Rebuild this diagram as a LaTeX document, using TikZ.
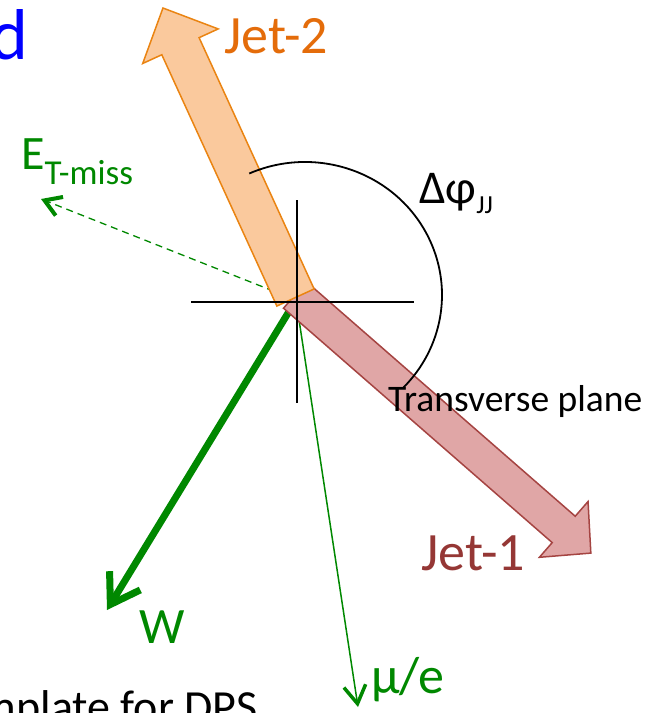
\documentclass[tikz,border=0pt]{standalone}
\usepackage{fontspec}
\setmainfont{Carlito}
\usetikzlibrary{arrows.meta,calc}
\definecolor{jettwofill}{RGB}{250,201,157}
\definecolor{jettwoline}{RGB}{234,132,18}
\definecolor{jettwotext}{RGB}{228,108,10}
\definecolor{jetonefill}{RGB}{224,166,166}
\definecolor{jetoneline}{RGB}{165,68,66}
\definecolor{jetonetext}{RGB}{149,55,53}
\definecolor{lepgreen}{RGB}{0,136,0}
\definecolor{titleblue}{RGB}{0,0,255}
\begin{document}
\begin{tikzpicture}[x=1pt,y=-1pt,
  lbl/.style={inner sep=0pt, anchor=base west},
  jetshape/.style={line width=1.5pt, line join=miter},
  axisline/.style={line width=1.8pt, black},
  wline/.style={line width=7pt, lepgreen, -{Straight Barb[length=28pt,width=36pt]}},
  muline/.style={line width=1.5pt, lepgreen, -{Straight Barb[length=18pt,width=22pt,line width=3.5pt]}},
  metline/.style={line width=1.3pt, lepgreen, dash pattern=on 7pt off 5pt, -{Straight Barb[length=16pt,width=20pt,line width=4pt]}}]
\useasboundingbox (0,0) rectangle (652,713);
\clip (0,0) rectangle (652,713);

\coordinate (O) at (296,300);
\coordinate (Wtip) at (107,610);
\coordinate (Mutip) at (358,707);
\coordinate (Mettip) at (41,199);
\coordinate (Hl) at (191,302);
\coordinate (Hr) at (414,302);
\coordinate (Vt) at (297,200);
\coordinate (Vb) at (297,403);

% lepton / W / missing ET
\draw[wline] (O) -- (Wtip);
\draw[muline] (O) -- (Mutip);
\draw[metline] (O) -- (Mettip);

% Jet-1 block arrow
\begin{scope}[shift={(295,295)}, rotate=-41.1]
  \draw[jetshape, fill=jetonefill, draw=jetoneline]
    (0,-17.5) -- (356.6,-17.5) -- (356.6,-37) -- (392.6,0) -- (356.6,37) -- (356.6,17.5) -- (0,17.5) -- cycle;
\end{scope}
% Jet-2 block arrow
\begin{scope}[shift={(295.5,297.5)}, rotate=114.6]
  \draw[jetshape, fill=jettwofill, draw=jettwoline]
    (0,-20.5) -- (276.4,-20.5) -- (276.4,-41.5) -- (318.4,0) -- (276.4,41.5) -- (276.4,20.5) -- (0,20.5) -- cycle;
\end{scope}

% transverse-plane axes
\draw[axisline] (Hl) -- (Hr);
\draw[axisline] (Vt) -- (Vb);

% angle arc
\draw[line width=1.8pt] (305,295) ++(114:137pt and 133pt) arc[start angle=114, end angle=-44, x radius=137pt, y radius=133pt];

% labels
\node[lbl, text=titleblue, font=\fontsize{72}{72}\selectfont, anchor=base east] (title) at (29,59) {d};
\node[lbl, text=jettwotext, font=\fontsize{54}{54}\selectfont] (jettwo) at (224,53) {Jet-2};
\node[lbl, text=jetonetext, font=\fontsize{54}{54}\selectfont] (jetone) at (421,570) {Jet-1};
\node[lbl, text=lepgreen, font=\fontsize{51}{51}\selectfont] (wlab) at (139,643) {W};
\node[lbl, text=lepgreen, font=\fontsize{52}{52}\selectfont] (mulab) at (371,693) {μ/e};
\node[lbl, text=lepgreen, font=\fontsize{48}{48}\selectfont] (metlab) at (21,169) {E\raisebox{-15pt}{\fontsize{35}{35}\selectfont T-miss}};
\node[lbl, text=black, font=\fontsize{47}{47}\selectfont] (dphi) at (419,203) {Δφ\raisebox{-10pt}{\fontsize{26}{26}\selectfont JJ}};
\node[lbl, text=black, font=\fontsize{37.5}{37.5}\selectfont] (plane) at (388,411) {Transverse plane};
\node[lbl, text=black, font=\fontsize{46}{46}\selectfont, anchor=base east] (templ) at (258,722) {Template for DPS};
\end{tikzpicture}
\end{document}
